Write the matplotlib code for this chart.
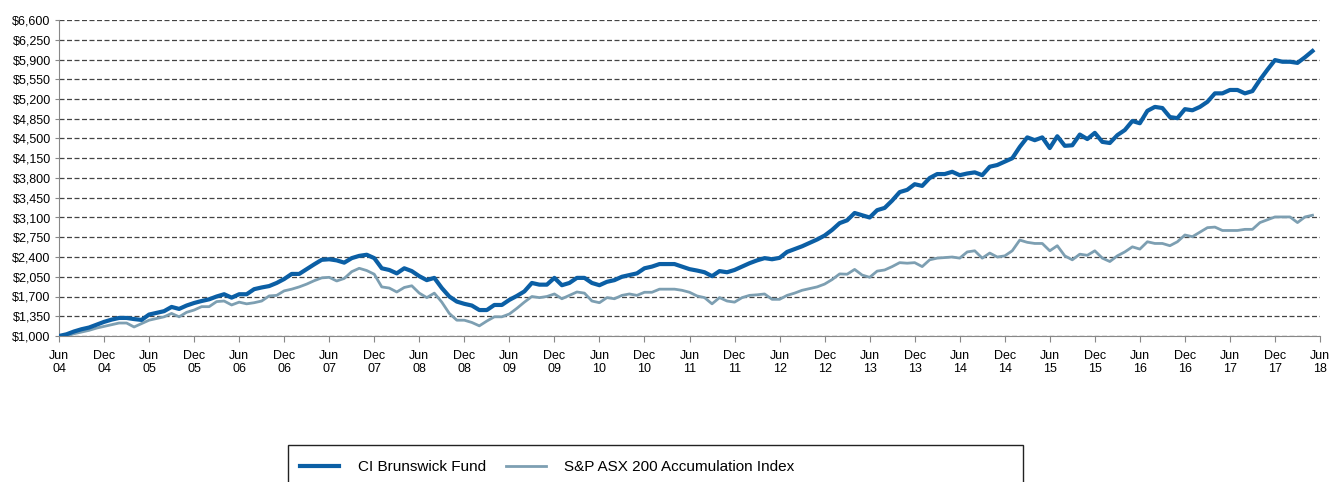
import matplotlib
matplotlib.use("Agg")
import matplotlib.pyplot as plt
from matplotlib.patches import Rectangle
import numpy as np

plt.rcParams['font.family'] = ['Liberation Sans', 'DejaVu Sans']

# month-end values of a $1,000 investment, Jun 2004 - May 2018
fund = [1000, 1030, 1080, 1120, 1150, 1200, 1250, 1290, 1320, 1320, 1300, 1285,
        1380, 1410, 1440, 1515, 1480, 1540, 1585, 1620, 1650, 1700, 1740, 1680,
        1740, 1740, 1830, 1860, 1885, 1940, 2010, 2100, 2100, 2185, 2270, 2350,
        2360, 2340, 2300, 2380, 2420, 2440, 2380, 2200, 2170, 2110, 2200, 2150,
        2060, 1990, 2030, 1850, 1700, 1610, 1570, 1540, 1460, 1460, 1550, 1550,
        1640, 1710, 1790, 1940, 1910, 1910, 2030, 1900, 1940, 2030, 2030, 1940,
        1900, 1960, 1990, 2050, 2080, 2110, 2200, 2230, 2275, 2275, 2275, 2230,
        2185, 2160, 2130, 2060, 2150, 2130, 2170, 2230, 2290, 2340, 2380, 2360,
        2385, 2490, 2540, 2590, 2650, 2710, 2780, 2880, 3000, 3050, 3180, 3140,
        3100, 3230, 3270, 3400, 3550, 3590, 3690, 3660, 3800, 3870, 3870, 3910,
        3850, 3880, 3900, 3850, 4000, 4030, 4090, 4150, 4350, 4520, 4470, 4520,
        4330, 4540, 4370, 4380, 4570, 4490, 4600, 4440, 4420, 4560, 4650, 4810,
        4770, 4990, 5060, 5040, 4880, 4860, 5020, 5000, 5060, 5150, 5300, 5300,
        5360, 5360, 5300, 5340, 5540, 5720, 5890, 5860, 5860, 5840, 5940, 6050]

index = [1000, 1000, 1040, 1070, 1100, 1140, 1170, 1200, 1230, 1230, 1160, 1220,
         1280, 1310, 1340, 1400, 1340, 1420, 1460, 1520, 1520, 1610, 1620, 1550,
         1600, 1570, 1590, 1620, 1710, 1720, 1800, 1830, 1870, 1920, 1980, 2030,
         2040, 1975, 2020, 2140, 2200, 2160, 2095, 1870, 1850, 1780, 1860, 1890,
         1760, 1680, 1760, 1600, 1400, 1280, 1280, 1240, 1180, 1265, 1340, 1340,
         1390, 1490, 1600, 1700, 1680, 1700, 1745, 1660, 1720, 1780, 1760, 1620,
         1590, 1680, 1660, 1720, 1745, 1720, 1775, 1775, 1830, 1830, 1830, 1810,
         1775, 1710, 1680, 1570, 1680, 1620, 1600, 1680, 1720, 1730, 1745, 1650,
         1650, 1720, 1760, 1810, 1840, 1870, 1920, 2000, 2100, 2095, 2180, 2080,
         2040, 2150, 2170, 2230, 2300, 2290, 2300, 2230, 2350, 2380, 2390, 2400,
         2380, 2490, 2510, 2380, 2470, 2400, 2420, 2510, 2700, 2660, 2640, 2640,
         2510, 2600, 2420, 2350, 2450, 2430, 2510, 2380, 2320, 2420, 2490, 2580,
         2540, 2670, 2640, 2640, 2600, 2670, 2790, 2760, 2840, 2920, 2930, 2870,
         2870, 2870, 2890, 2890, 3010, 3060, 3110, 3110, 3110, 3010, 3110, 3140]

months = np.arange(len(fund))
tick_pos = np.arange(0, 169, 6)
tick_labels = [("Jun" if i % 2 == 0 else "Dec") + "\n" + "%02d" % (4 + i // 2)
               for i in range(len(tick_pos))]
yticks = np.arange(1000, 6601, 350)

fig = plt.figure(figsize=(13.3, 4.82), dpi=100)
ax = fig.add_axes([59/1330, 1 - 336/482, (1320 - 59)/1330, (336 - 20)/482])

ax.plot(months, index, color='#7d9fb2', lw=2.0, label='S&P ASX 200 Accumulation Index', zorder=3)
ax.plot(months, fund, color='#0b5fa5', lw=3.0, label='CI Brunswick Fund', zorder=4)

ax.set_xlim(0, 168)
ax.set_ylim(1000, 6600)
ax.set_yticks(yticks)
ax.set_yticklabels(['${:,}'.format(v) for v in yticks])
ax.set_xticks(tick_pos)
ax.set_xticklabels(tick_labels, linespacing=1.1)
ax.tick_params(axis='x', length=4, color='#888888', labelsize=9, pad=6)
ax.tick_params(axis='y', length=3, color='#888888', labelsize=9, pad=3)
ax.yaxis.grid(True, color='#444444', lw=0.9, linestyle=(0, (4, 2)))
ax.set_axisbelow(True)
for s in ['top', 'right']:
    ax.spines[s].set_visible(False)
ax.spines['left'].set_color('#888888')
ax.spines['bottom'].set_color('#888888')

# legend box, cut off by the bottom edge like the original
fig.patches.append(Rectangle((288/1330, -0.05), (1023 - 288)/1330, 0.05 + 1 - 445/482,
                             transform=fig.transFigure, fill=False, edgecolor='#222222', lw=1))
h, l = ax.get_legend_handles_labels()
fig.legend(h[::-1], l[::-1], loc='center left', bbox_to_anchor=(286/1330, 1 - 467/482),
           ncol=2, frameon=False, handlelength=2.6, handletextpad=1.2, columnspacing=1.3,
           prop={'size': 11})

fig.savefig('out.png', dpi=100)
